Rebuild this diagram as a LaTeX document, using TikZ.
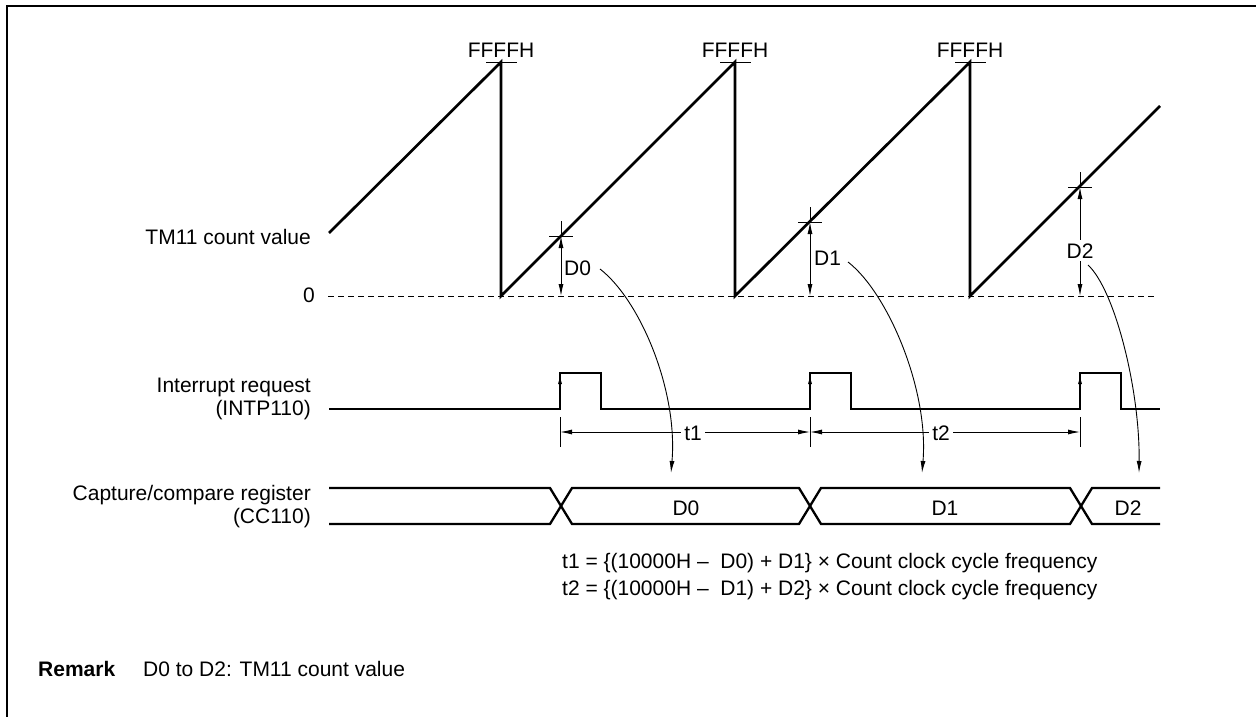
\documentclass[tikz,border=0pt]{standalone}
\usepackage{fontspec}
\setmainfont{Liberation Sans}
\usetikzlibrary{arrows.meta}
\begin{document}
\begin{tikzpicture}[x=1pt,y=-1pt,
  txt/.style={font=\fontsize{21}{24}\selectfont, inner sep=0pt},
  heavy/.style={line width=2.7pt, line join=miter, line cap=butt},
  sig/.style={line width=2.3pt, line join=miter},
  thinl/.style={line width=0.9pt},
  tip/.style={-{Latex[length=12pt,width=5pt]}},
  dtip/.style={{Latex[length=12pt,width=5pt]}-{Latex[length=12pt,width=5pt]}}]
\useasboundingbox (0,0) rectangle (1256,717);
% frame
\draw[line width=2.5pt] (7,717) -- (7,6) -- (1256,6);
% left labels
\node[txt, anchor=base east] (lcount) at (311,244) {TM11 count value};
\node[txt, anchor=base east] (lzero) at (315,302) {0};
\node[txt, anchor=base east] (lint1) at (311,392) {Interrupt request};
\node[txt, anchor=base east] (lint2) at (311,415) {(INTP110)};
\node[txt, anchor=base east] (lcap1) at (311,500) {Capture/compare register};
\node[txt, anchor=base east] (lcap2) at (311,523) {(CC110)};
% zero line
\coordinate (z0) at (328,296);
\coordinate (z1) at (1157,296);
\draw[thinl, dash pattern=on 6pt off 4pt] (z0) -- (z1);
% FFFFH
\foreach \x/\n in {501/a,735/b,970/c}{
  \draw[thinl] (\x-15,62) -- (\x+16,62);
  \node[txt, anchor=base] (ff\n) at (\x,58) {FFFFH};
}
% sawtooth
\draw[heavy] (329,233) -- (501,62) -- (501,296) -- (735,62) -- (735,296) -- (970,62) -- (970,296) -- (1160,106);
% capture marks
\foreach \x/\y/\n in {561/236/0,810/222/1,1080/187/2}{
  \coordinate (m\n) at (\x,\y);
  \coordinate (b\n) at (\x,296);
  \draw[thinl] (\x-12,\y) -- (\x+12,\y);
  \draw[thinl] (\x,\y-15) -- (\x,\y);
}
\draw[thinl, dtip] (m0) -- (b0);
\draw[thinl, dtip] (m1) -- (b1);
\draw[thinl, dtip] (m2) -- (b2);
\node[txt, anchor=base west] (d0) at (564,275) {D0};
\node[txt, anchor=base west] (d1) at (814,265) {D1};
\node[txt, anchor=base, fill=white, inner xsep=1pt, inner ysep=3pt] (d2) at (1080,258) {D2};
% interrupt signal
\draw[sig] (329,409) -- (560,409) -- (560,373) -- (601,373) -- (601,409) -- (810,409) -- (810,373) -- (851,373) -- (851,409) -- (1080,409) -- (1080,373) -- (1121,373) -- (1121,409) -- (1160,409);
\foreach \x in {560,810,1080}{
  \draw[thinl, -{Latex[length=9pt,width=4pt]}] (\x,395) -- (\x,375);
  \draw[thinl] (\x,417) -- (\x,447);
}
\coordinate (ta) at (560,432);
\coordinate (tb) at (810,432);
\coordinate (tc) at (1080,432);
\draw[thinl, dtip] (ta) -- (tb);
\draw[thinl, dtip] (tb) -- (tc);
\node[txt, fill=white, inner xsep=3pt, inner ysep=2pt] (t1) at (693,433) {t1};
\node[txt, fill=white, inner xsep=3pt, inner ysep=2pt] (t2) at (941,433) {t2};
% bus
\draw[sig] (329,488) -- (550,488) -- (572,524) -- (799,524) -- (821,488) -- (1070,488) -- (1092,524) -- (1160,524);
\draw[sig] (329,524) -- (550,524) -- (572,488) -- (799,488) -- (821,524) -- (1070,524) -- (1092,488) -- (1160,488);
\node[txt, anchor=base] (c0) at (686,515) {D0};
\node[txt, anchor=base] (c1) at (945,515) {D1};
\node[txt, anchor=base] (c2) at (1128,515) {D2};
% curved arrows
\coordinate (s0) at (600,269);
\coordinate (s1) at (848,262);
\coordinate (s2) at (1088,265);
\coordinate (e0) at (671,473);
\coordinate (e1) at (922,473);
\coordinate (e2) at (1139,473);
\draw[thinl, tip] (s0) .. controls (640,300) and (678,390) .. (e0);
\draw[thinl, tip] (s1) .. controls (888,293) and (929,390) .. (e1);
\draw[thinl, tip] (s2) .. controls (1115,290) and (1140,390) .. (e2);
% formulas
\node[txt, anchor=base west] (f1) at (562,568) {t1 = \{(10000H –\ \ D0) + D1\} × Count clock cycle frequency};
\node[txt, anchor=base west] (f2) at (562,595) {t2 = \{(10000H –\ \ D1) + D2\} × Count clock cycle frequency};
% remark
\node[txt, anchor=base west, font=\fontsize{21}{24}\selectfont\bfseries] (rem) at (38,676) {Remark};
\node[txt, anchor=base west] (remt) at (143,676) {D0 to D2: TM11 count value};
\end{tikzpicture}
\end{document}
